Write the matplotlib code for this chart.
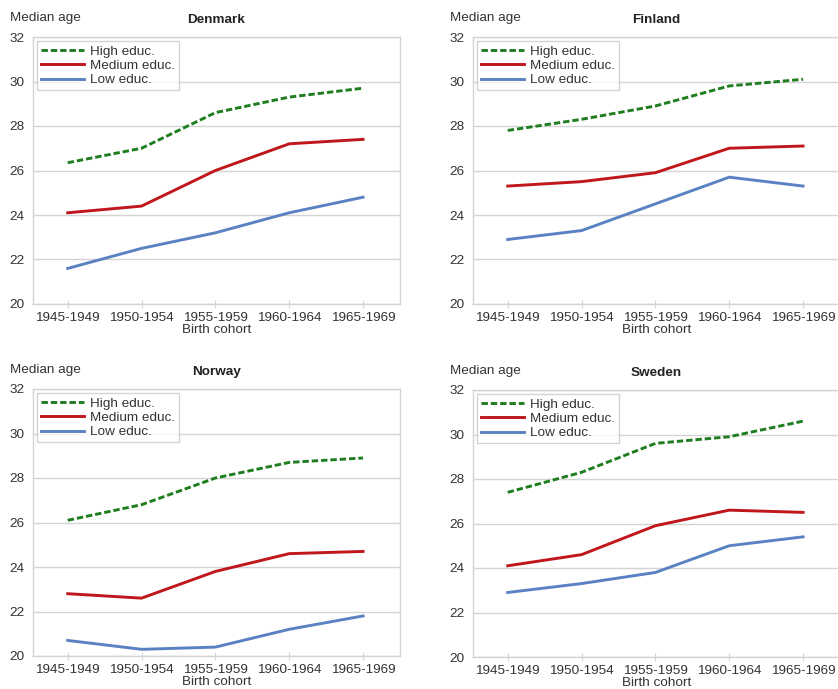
import matplotlib
matplotlib.use("Agg")
import matplotlib.pyplot as plt
import numpy as np

plt.rcParams['font.family'] = ['Liberation Sans', 'DejaVu Sans']

cohorts = ["1945-1949", "1950-1954", "1955-1959", "1960-1964", "1965-1969"]
series_names = ["High educ.", "Medium educ.", "Low educ."]

denmark_high = [26.35, 27.0, 28.6, 29.3, 29.7]
denmark_medium = [24.1, 24.4, 26.0, 27.2, 27.4]
denmark_low = [21.6, 22.5, 23.2, 24.1, 24.8]

finland_high = [27.8, 28.3, 28.9, 29.8, 30.1]
finland_medium = [25.3, 25.5, 25.9, 27.0, 27.1]
finland_low = [22.9, 23.3, 24.5, 25.7, 25.3]

norway_high = [26.1, 26.8, 28.0, 28.7, 28.9]
norway_medium = [22.8, 22.6, 23.8, 24.6, 24.7]
norway_low = [20.7, 20.3, 20.4, 21.2, 21.8]

sweden_high = [27.4, 28.3, 29.6, 29.9, 30.6]
sweden_medium = [24.1, 24.6, 25.9, 26.6, 26.5]
sweden_low = [22.9, 23.3, 23.8, 25.0, 25.4]

yticks = [20, 22, 24, 26, 28, 30, 32]

panels = [
    ("Denmark", denmark_high, denmark_medium, denmark_low, [33/838, 1-304/689, 367/838, 267/689]),
    ("Finland", finland_high, finland_medium, finland_low, [473/838, 1-304/689, 367/838, 267/689]),
    ("Norway", norway_high, norway_medium, norway_low, [33/838, 1-656/689, 367/838, 267/689]),
    ("Sweden", sweden_high, sweden_medium, sweden_low, [473/838, 1-657/689, 367/838, 267/689]),
]

colors = ["#1e7d1e", "#c0171c", "#5a82c2"]
styles = [(0, (2.2, 1.0)), "-", "-"]

fig = plt.figure(figsize=(8.38, 6.89), dpi=100)
fs = 9.7
grid_c = "#d4d4d4"
text_c = "#333333"

for name, hi, me, lo, pos in panels:
    ax = fig.add_axes(pos)
    x = np.arange(len(cohorts))
    for vals, c, ls, lab in zip([hi, me, lo], colors, styles, series_names):
        ax.plot(x, vals, color=c, linestyle=ls, linewidth=2.1, label=lab)
    ax.set_xlim(-0.47, 4.5)
    ax.set_ylim(20, 32)
    ax.set_yticks(yticks)
    ax.set_xticks(x)
    ax.set_xticklabels(cohorts, fontsize=fs, color=text_c)
    ax.tick_params(axis='y', length=0, labelsize=fs, pad=6, labelcolor=text_c)
    ax.tick_params(axis='x', direction='inout', length=6, color=grid_c, pad=3)
    for sp in ax.spines.values():
        sp.set_color(grid_c)
        sp.set_linewidth(1.0)
    ax.yaxis.grid(True, color=grid_c, linewidth=1.0)
    ax.set_axisbelow(True)
    ax.set_xlabel("Birth cohort", fontsize=fs, labelpad=0, color=text_c)
    ax.set_title(name, fontsize=fs, fontweight='bold', pad=10, color="#222222")
    ax.text(-0.063, 1.071, "Median age", transform=ax.transAxes, fontsize=fs,
            ha='left', va='center', color=text_c)
    leg = ax.legend(loc='upper left', fontsize=fs, frameon=True, fancybox=False,
                    borderaxespad=0.3, labelspacing=0.15, handlelength=3.2,
                    handletextpad=0.4, borderpad=0.3, labelcolor=text_c)
    leg.get_frame().set_edgecolor("#c8c8c8")
    leg.get_frame().set_linewidth(1.0)

fig.savefig("out.png", dpi=100)
